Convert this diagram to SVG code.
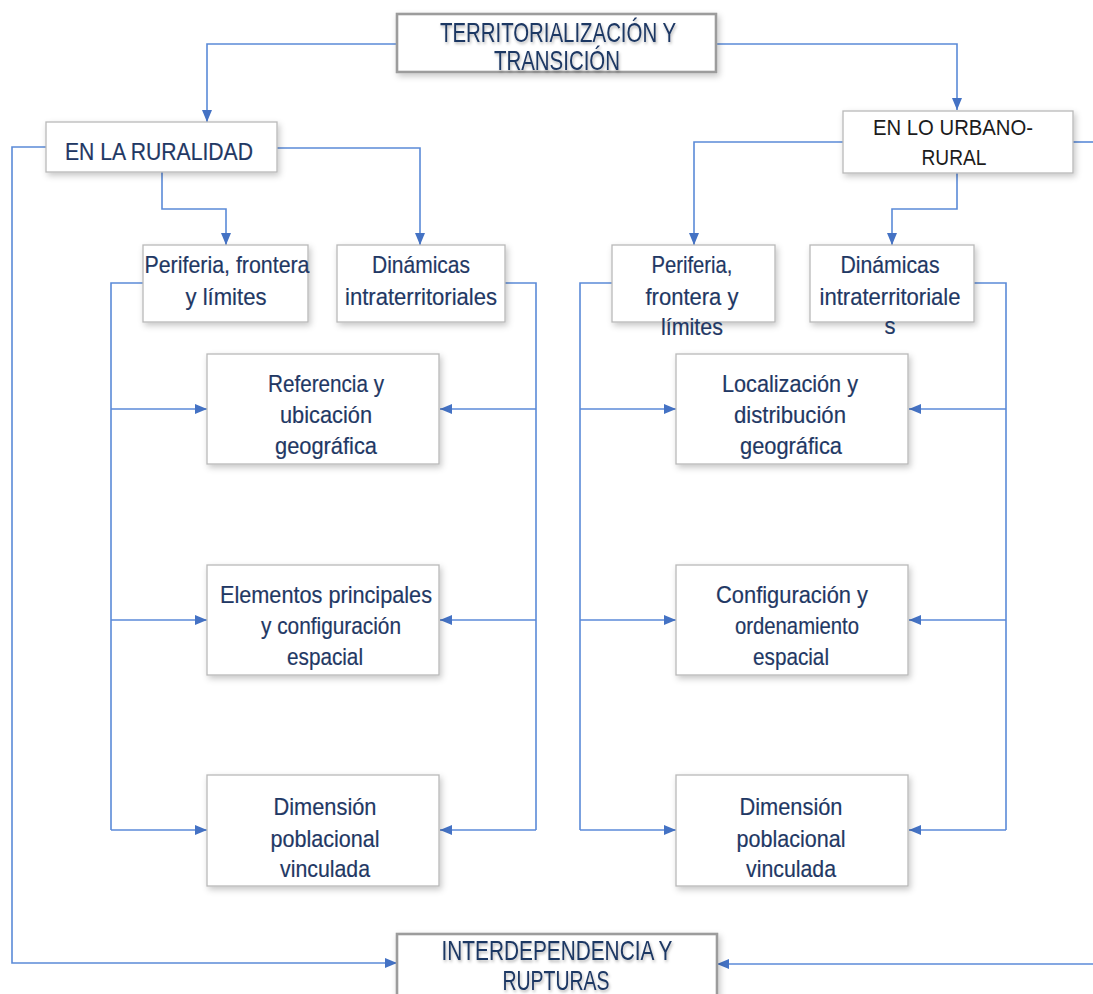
<svg xmlns="http://www.w3.org/2000/svg" width="1093" height="994" viewBox="0 0 1093 994">
  <defs>
    <filter id="shadow" x="-10%" y="-10%" width="125%" height="135%">
      <feDropShadow dx="2" dy="3" stdDeviation="3" flood-color="#000" flood-opacity="0.22"/>
    </filter>
    <filter id="txtglow" x="-5%" y="-20%" width="110%" height="150%">
      <feDropShadow dx="1" dy="2" stdDeviation="1.5" flood-color="#000" flood-opacity="0.3"/>
    </filter>
    <marker id="arrow" viewBox="0 0 12 10" refX="12" refY="5" markerWidth="12" markerHeight="10" markerUnits="userSpaceOnUse" orient="auto">
      <path d="M0,0 L12,5 L0,10 Z" fill="#4472c4"/>
    </marker>
  </defs>
  <style>
    .box { fill: #ffffff; stroke: #b9b9b9; stroke-width: 1.3; filter: url(#shadow); }
    .hbox { fill: #ffffff; stroke: #9c9c9c; stroke-width: 2.6; filter: url(#shadow); }
    .t { font-family: "Liberation Sans", Arial, sans-serif; font-size: 24px; fill: #1f3864; stroke: #1f3864; stroke-width: 0.2; text-anchor: middle; }
    .th { font-family: "Liberation Sans", Arial, sans-serif; font-size: 28px; fill: #1f3864; text-anchor: middle; filter: url(#txtglow); }
    .tb { font-family: "Liberation Sans", Arial, sans-serif; font-size: 22px; fill: #1c1c1c; text-anchor: middle; }
    .c { fill: none; stroke: #5b8ad8; stroke-width: 1.6; }
    .ca { fill: none; stroke: #5b8ad8; stroke-width: 1.6; marker-end: url(#arrow); }
  </style>

  <rect width="1093" height="994" fill="#ffffff"/>

  <!-- connectors -->
  <g id="connectors">
    <!-- top level split -->
    <polyline class="ca" points="397,44 207,44 207,122"/>
    <polyline class="ca" points="716,44 957,44 957,110"/>
    <!-- rural branch -->
    <polyline class="ca" points="162,172 162,209 226,209 226,245"/>
    <polyline class="ca" points="277,148 420,148 420,245"/>
    <polyline class="ca" points="46,147 12,147 12,963 397,963"/>
    <!-- urbano-rural branch -->
    <polyline class="ca" points="843,142 694,142 694,245"/>
    <polyline class="ca" points="957,173 957,209 892,209 892,245"/>
    <polyline class="c" points="1073,142 1093,142"/>
    <polyline class="ca" points="1093,964 717,964"/>
    <!-- left column: periferia -->
    <polyline class="c" points="143,283 111,283 111,830"/>
    <polyline class="ca" points="111,409 207,409"/>
    <polyline class="ca" points="111,620 207,620"/>
    <polyline class="ca" points="111,830 207,830"/>
    <!-- left column: dinamicas -->
    <polyline class="c" points="505,283 536,283 536,830"/>
    <polyline class="ca" points="536,409 440,409"/>
    <polyline class="ca" points="536,620 440,620"/>
    <polyline class="ca" points="536,830 440,830"/>
    <!-- right column: periferia -->
    <polyline class="c" points="612,283 580,283 580,830"/>
    <polyline class="ca" points="580,409 676,409"/>
    <polyline class="ca" points="580,620 676,620"/>
    <polyline class="ca" points="580,830 676,830"/>
    <!-- right column: dinamicas -->
    <polyline class="c" points="974,283 1006,283 1006,830"/>
    <polyline class="ca" points="1006,409 909,409"/>
    <polyline class="ca" points="1006,620 909,620"/>
    <polyline class="ca" points="1006,830 909,830"/>
  </g>

  <!-- top node -->
  <g id="territorializacion">
    <rect class="hbox" x="397" y="14" width="319" height="58"/>
    <text class="th" x="558" y="42" textLength="236" lengthAdjust="spacingAndGlyphs">TERRITORIALIZACIÓN Y</text>
    <text class="th" x="557" y="70" textLength="126" lengthAdjust="spacingAndGlyphs">TRANSICIÓN</text>
  </g>

  <g id="ruralidad">
    <rect class="box" x="46" y="122" width="231" height="50"/>
    <text class="t" x="159" y="160" textLength="188" lengthAdjust="spacingAndGlyphs">EN LA RURALIDAD</text>
  </g>

  <g id="urbano-rural">
    <rect class="box" x="843" y="111" width="230" height="62"/>
    <text class="tb" x="953" y="135" textLength="160" lengthAdjust="spacingAndGlyphs">EN LO URBANO-</text>
    <text class="tb" x="954" y="165" textLength="65" lengthAdjust="spacingAndGlyphs">RURAL</text>
  </g>

  <!-- rural sub-nodes -->
  <g id="periferia-rural">
    <rect class="box" x="143" y="245" width="165" height="77"/>
    <text class="t" x="227" y="273" textLength="165" lengthAdjust="spacingAndGlyphs">Periferia, frontera</text>
    <text class="t" x="226" y="305" textLength="81" lengthAdjust="spacingAndGlyphs">y límites</text>
  </g>

  <g id="dinamicas-rural">
    <rect class="box" x="337" y="245" width="168" height="77"/>
    <text class="t" x="421" y="273" textLength="98" lengthAdjust="spacingAndGlyphs">Dinámicas</text>
    <text class="t" x="421" y="305" textLength="152" lengthAdjust="spacingAndGlyphs">intraterritoriales</text>
  </g>

  <g id="referencia">
    <rect class="box" x="207" y="354" width="232" height="110"/>
    <text class="t" x="326" y="392" textLength="116" lengthAdjust="spacingAndGlyphs">Referencia y</text>
    <text class="t" x="326" y="423" textLength="92" lengthAdjust="spacingAndGlyphs">ubicación</text>
    <text class="t" x="326" y="454" textLength="102" lengthAdjust="spacingAndGlyphs">geográfica</text>
  </g>

  <g id="elementos">
    <rect class="box" x="207" y="565" width="232" height="110"/>
    <text class="t" x="326" y="603" textLength="212" lengthAdjust="spacingAndGlyphs">Elementos principales</text>
    <text class="t" x="331" y="634" textLength="140" lengthAdjust="spacingAndGlyphs">y configuración</text>
    <text class="t" x="325" y="665" textLength="76" lengthAdjust="spacingAndGlyphs">espacial</text>
  </g>

  <g id="dimension-rural">
    <rect class="box" x="207" y="775" width="232" height="111"/>
    <text class="t" x="325" y="815" textLength="103" lengthAdjust="spacingAndGlyphs">Dimensión</text>
    <text class="t" x="325" y="847" textLength="109" lengthAdjust="spacingAndGlyphs">poblacional</text>
    <text class="t" x="325" y="877" textLength="90" lengthAdjust="spacingAndGlyphs">vinculada</text>
  </g>

  <!-- urbano-rural sub-nodes -->
  <g id="periferia-urbano">
    <rect class="box" x="612" y="245" width="163" height="77"/>
    <text class="t" x="692" y="273" textLength="81" lengthAdjust="spacingAndGlyphs">Periferia,</text>
    <text class="t" x="692" y="305" textLength="93" lengthAdjust="spacingAndGlyphs">frontera y</text>
    <text class="t" x="692" y="335" textLength="62" lengthAdjust="spacingAndGlyphs">límites</text>
  </g>

  <g id="dinamicas-urbano">
    <rect class="box" x="810" y="245" width="164" height="77"/>
    <text class="t" x="890" y="273" textLength="99" lengthAdjust="spacingAndGlyphs">Dinámicas</text>
    <text class="t" x="890" y="305" textLength="141" lengthAdjust="spacingAndGlyphs">intraterritoriale</text>
    <text class="t" x="890" y="334" textLength="11" lengthAdjust="spacingAndGlyphs">s</text>
  </g>

  <g id="localizacion">
    <rect class="box" x="676" y="354" width="232" height="110"/>
    <text class="t" x="790" y="392" textLength="136" lengthAdjust="spacingAndGlyphs">Localización y</text>
    <text class="t" x="790" y="423" textLength="112" lengthAdjust="spacingAndGlyphs">distribución</text>
    <text class="t" x="791" y="454" textLength="102" lengthAdjust="spacingAndGlyphs">geográfica</text>
  </g>

  <g id="configuracion">
    <rect class="box" x="676" y="565" width="232" height="110"/>
    <text class="t" x="792" y="603" textLength="152" lengthAdjust="spacingAndGlyphs">Configuración y</text>
    <text class="t" x="797" y="634" textLength="124" lengthAdjust="spacingAndGlyphs">ordenamiento</text>
    <text class="t" x="791" y="665" textLength="76" lengthAdjust="spacingAndGlyphs">espacial</text>
  </g>

  <g id="dimension-urbano">
    <rect class="box" x="676" y="775" width="232" height="111"/>
    <text class="t" x="791" y="815" textLength="103" lengthAdjust="spacingAndGlyphs">Dimensión</text>
    <text class="t" x="791" y="847" textLength="109" lengthAdjust="spacingAndGlyphs">poblacional</text>
    <text class="t" x="791" y="877" textLength="90" lengthAdjust="spacingAndGlyphs">vinculada</text>
  </g>

  <!-- bottom node -->
  <g id="interdependencia">
    <rect class="hbox" x="397" y="934" width="320" height="70"/>
    <text class="th" x="557" y="960" textLength="231" lengthAdjust="spacingAndGlyphs">INTERDEPENDENCIA Y</text>
    <text class="th" x="556" y="990" textLength="107" lengthAdjust="spacingAndGlyphs">RUPTURAS</text>
  </g>
</svg>
